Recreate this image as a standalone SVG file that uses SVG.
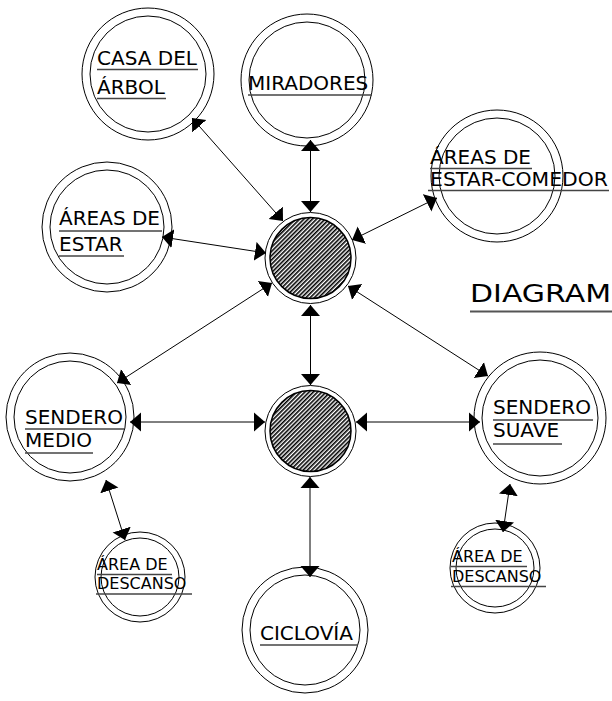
<svg xmlns="http://www.w3.org/2000/svg" width="612" height="701" viewBox="0 0 612 701">
<style>
.ring{fill:none;stroke:#000;stroke-width:1}
.lbl{font-family:"DejaVu Sans",Verdana,sans-serif;font-size:20px;fill:#000}
.sm{font-size:16px}
.ul{stroke:#444;stroke-width:1.5}
.con{stroke:#000;stroke-width:1;fill:none;marker-start:url(#ah);marker-end:url(#ah)}
.hat{fill:url(#hatch);stroke:#000;stroke-width:1.5}
</style>
<defs>
<marker id="ah" markerUnits="userSpaceOnUse" markerWidth="12" markerHeight="20" refX="11" refY="9.5" orient="auto-start-reverse" viewBox="0 0 12 19">
<path d="M0,0 L11,9.5 L0,19 z" fill="#000"/>
</marker>
<pattern id="hatch" patternUnits="userSpaceOnUse" width="3" height="3" patternTransform="rotate(45)">
<rect width="3" height="3" fill="#fff"/>
<line x1="0.8" y1="0" x2="0.8" y2="3" stroke="#000" stroke-width="1.6"/>
</pattern>
</defs>
<rect width="612" height="701" fill="#fff"/>
<g id="connectors">
<line class="con" x1="192" y1="118" x2="283" y2="221"/>
<line class="con" x1="310.5" y1="140" x2="310.5" y2="212"/>
<line class="con" x1="437" y1="198" x2="352" y2="240"/>
<line class="con" x1="162" y1="237" x2="266" y2="253"/>
<line class="con" x1="117" y1="383" x2="272" y2="283"/>
<line class="con" x1="488" y1="376" x2="348" y2="286"/>
<line class="con" x1="310.5" y1="305" x2="310.5" y2="385"/>
<line class="con" x1="130" y1="422" x2="265" y2="422"/>
<line class="con" x1="356" y1="422" x2="480" y2="422"/>
<line class="con" x1="310" y1="477" x2="310" y2="577"/>
<line class="con" x1="106" y1="480" x2="125" y2="540"/>
<line class="con" x1="510" y1="484" x2="503" y2="532"/>
</g>
<g id="hub-top">
<circle class="ring" cx="310.5" cy="258" r="45.5"/>
<circle class="hat" cx="310.5" cy="258" r="40.5"/>
</g>
<g id="hub-bottom">
<circle class="ring" cx="310.5" cy="431" r="45.5"/>
<circle class="hat" cx="310.5" cy="431" r="40.5"/>
</g>
<g id="casa-del-arbol">
<circle class="ring" cx="148" cy="74" r="66"/>
<circle class="ring" cx="148" cy="74" r="58"/>
<text class="lbl" x="97" y="65">CASA DEL</text>
<line class="ul" x1="97" y1="69.5" x2="198" y2="69.5"/>
<text class="lbl" x="97" y="94">ÁRBOL</text>
<line class="ul" x1="97" y1="98.5" x2="166" y2="98.5"/>
</g>
<g id="miradores">
<circle class="ring" cx="307" cy="80" r="66"/>
<circle class="ring" cx="307" cy="80" r="58"/>
<text class="lbl" x="248" y="90">MIRADORES</text>
<line class="ul" x1="248" y1="95" x2="372" y2="95"/>
</g>
<g id="areas-estar-comedor">
<circle class="ring" cx="497" cy="176" r="66"/>
<circle class="ring" cx="497" cy="176" r="58"/>
<text class="lbl" x="430" y="164">ÁREAS DE</text>
<line class="ul" x1="430" y1="168.5" x2="532" y2="168.5"/>
<text class="lbl" x="430" y="186" textLength="178" lengthAdjust="spacingAndGlyphs">ESTAR-COMEDOR</text>
<line class="ul" x1="428" y1="190.5" x2="609" y2="190.5"/>
</g>
<g id="areas-de-estar">
<circle class="ring" cx="107" cy="227" r="65"/>
<circle class="ring" cx="107" cy="227" r="57"/>
<text class="lbl" x="59" y="225">ÁREAS DE</text>
<line class="ul" x1="59" y1="231" x2="162" y2="231"/>
<text class="lbl" x="59" y="251">ESTAR</text>
<line class="ul" x1="59" y1="256" x2="124" y2="256"/>
</g>
<g id="sendero-medio">
<circle class="ring" cx="70" cy="417" r="64"/>
<circle class="ring" cx="70" cy="417" r="56"/>
<text class="lbl" x="25" y="424">SENDERO</text>
<line class="ul" x1="25" y1="429" x2="124" y2="429"/>
<text class="lbl" x="25" y="447">MEDIO</text>
<line class="ul" x1="25" y1="453" x2="93" y2="453"/>
</g>
<g id="sendero-suave">
<circle class="ring" cx="540" cy="418" r="66"/>
<circle class="ring" cx="540" cy="418" r="58"/>
<text class="lbl" x="493" y="414">SENDERO</text>
<line class="ul" x1="493" y1="420" x2="593" y2="420"/>
<text class="lbl" x="493" y="437">SUAVE</text>
<line class="ul" x1="493" y1="444" x2="562" y2="444"/>
</g>
<g id="area-descanso-1">
<circle class="ring" cx="140" cy="577" r="45"/>
<circle class="ring" cx="140" cy="577" r="39"/>
<text class="lbl sm" x="97" y="570">ÁREA DE</text>
<line class="ul" x1="97" y1="574.5" x2="172" y2="574.5"/>
<text class="lbl sm" x="97" y="589">DESCANSO</text>
<line class="ul" x1="96" y1="594" x2="192" y2="594"/>
</g>
<g id="area-descanso-2">
<circle class="ring" cx="495" cy="568" r="45"/>
<circle class="ring" cx="495" cy="568" r="39"/>
<text class="lbl sm" x="452" y="562">ÁREA DE</text>
<line class="ul" x1="451" y1="566.5" x2="527" y2="566.5"/>
<text class="lbl sm" x="452" y="582">DESCANSO</text>
<line class="ul" x1="451" y1="586.5" x2="546" y2="586.5"/>
</g>
<g id="ciclovia">
<circle class="ring" cx="305" cy="630" r="63"/>
<circle class="ring" cx="305" cy="630" r="55"/>
<text class="lbl" x="260" y="640">CICLOVÍA</text>
<line class="ul" x1="260" y1="645" x2="358" y2="645"/>
</g>
<g id="title">
<text class="lbl" x="470" y="302" style="font-size:24px" textLength="141" lengthAdjust="spacingAndGlyphs">DIAGRAM</text>
<line x1="470" y1="311.5" x2="612" y2="311.5" stroke="#555" stroke-width="2"/>
</g>
</svg>
